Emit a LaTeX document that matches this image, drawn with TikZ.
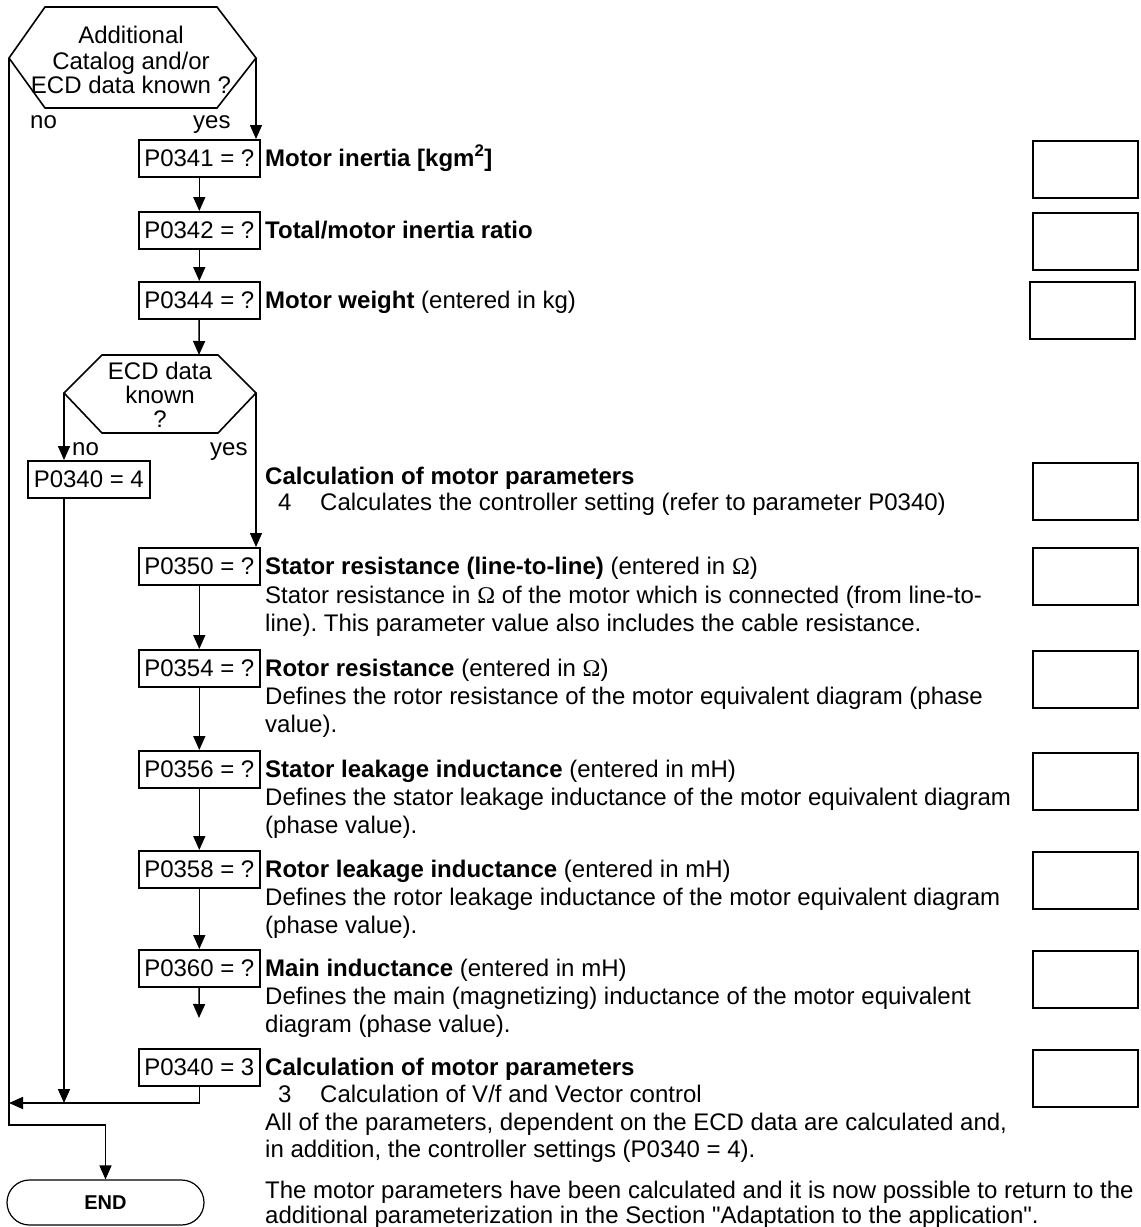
\documentclass[tikz,border=0pt]{standalone}
\usepackage{fontspec}
\setmainfont{Liberation Sans}
\newfontfamily\omegafont{Liberation Serif}
\newfontfamily\plainfont{Liberation Sans}
\usetikzlibrary{arrows.meta}
\newcommand{\Om}{{\omegafont Ω}}
\newcommand{\dq}{{\plainfont"}}
\frenchspacing
\begin{document}
\begin{tikzpicture}[x=1pt,y=-1pt,
  font=\fontsize{24}{28}\selectfont\frenchspacing,
  ln/.style={line width=1.6pt},
  arr/.style={line width=1.6pt,-{Triangle[length=14pt,width=12pt]}},
  pbox/.style={draw,line width=1.6pt,minimum width=121pt,minimum height=37pt,inner sep=0pt,anchor=north west},
  rbox/.style={draw,line width=1.6pt,minimum width=105pt,minimum height=57pt,inner sep=0pt,anchor=north west},
  txt/.style={anchor=base west,inner sep=0pt},
  ctxt/.style={anchor=base,inner sep=0pt},
  endbox/.style={draw,line width=1.2pt,minimum width=197pt,minimum height=45pt,rounded corners=22.5pt,inner sep=0pt,font=\fontsize{20}{24}\selectfont\bfseries}
]
\useasboundingbox (0,0) rectangle (1141,1227);

% decision 1
\coordinate (d1l) at (9,58);
\coordinate (d1r) at (256,58);
\draw[ln] (d1l) -- (45,7) -- (217,7) -- (d1r) -- (217,108) -- (45,108) -- cycle;
\node[ctxt] (d1a) at (131,43) {Additional};
\node[ctxt] (d1b) at (131,69) {Catalog and/or};
\node[ctxt] (d1c) at (131,93) {ECD data known ?};
\node[txt] (no1) at (30,128) {no};
\node[txt] (yes1) at (193,128) {yes};

% parameter boxes
\node[pbox] (p341) at (138,139) {P0341 = ?};
\node[pbox] (p342) at (138,211) {P0342 = ?};
\node[pbox] (p344) at (138,281) {P0344 = ?};

% decision 2
\coordinate (d2l) at (64,393);
\coordinate (d2r) at (256,393);
\coordinate (d2t) at (199,355);
\draw[ln] (d2l) -- (102,355) -- (218,355) -- (d2r) -- (218,433) -- (102,433) -- cycle;
\node[ctxt] (d2a) at (160,379) {ECD data};
\node[ctxt] (d2b) at (160,403) {known};
\node[ctxt] (d2c) at (160,427) {?};
\node[txt] (no2) at (72,455) {no};
\node[txt] (yes2) at (210,455) {yes};

\node[pbox,minimum width=122pt] (p3404) at (27,460) {P0340 = 4};
\node[pbox] (p350) at (138,547) {P0350 = ?};
\node[pbox] (p354) at (138,649) {P0354 = ?};
\node[pbox] (p356) at (138,750) {P0356 = ?};
\node[pbox] (p358) at (138,850) {P0358 = ?};
\node[pbox] (p360) at (138,949) {P0360 = ?};
\node[pbox] (p3403) at (138,1048) {P0340 = 3};

\node[endbox] (endn) at (105.5,1202.5) {END};

% right check boxes
\node[rbox] (r1) at (1032,140) {};
\node[rbox] (r2) at (1032,212) {};
\node[rbox] (r3) at (1029,281) {};
\node[rbox] (r4) at (1032,462) {};
\node[rbox] (r5) at (1032,547) {};
\node[rbox] (r6) at (1032,650) {};
\node[rbox] (r7) at (1032,752) {};
\node[rbox] (r8) at (1032,851) {};
\node[rbox] (r9) at (1032,950) {};
\node[rbox] (r10) at (1032,1049) {};

% descriptive texts
\node[txt] (t1) at (265,166) {\textbf{Motor inertia [kgm\textsuperscript{2}]}};
\node[txt] (t2) at (265,238) {\textbf{Total/motor inertia ratio}};
\node[txt] (t3) at (265,308) {\textbf{Motor weight} (entered in kg)};
\node[txt] (t4) at (265,484) {\textbf{Calculation of motor parameters}};
\node[txt] (t4n) at (278,510) {4};
\node[txt] (t4b) at (320,510) {Calculates the controller setting (refer to parameter P0340)};
\node[txt] (t5) at (265,574) {\textbf{Stator resistance (line-to-line)} (entered in \Om)};
\node[txt] (t5a) at (265,603) {Stator resistance in \Om{} of the motor which is connected (from line-to-};
\node[txt] (t5b) at (265,631) {line). This parameter value also includes the cable resistance.};
\node[txt] (t6) at (265,676) {\textbf{Rotor resistance} (entered in \Om)};
\node[txt] (t6a) at (265,704) {Defines the rotor resistance of the motor equivalent diagram (phase};
\node[txt] (t6b) at (265,732) {value).};
\node[txt] (t7) at (265,777) {\textbf{Stator leakage inductance} (entered in mH)};
\node[txt] (t7a) at (265,805) {Defines the stator leakage inductance of the motor equivalent diagram};
\node[txt] (t7b) at (265,833) {(phase value).};
\node[txt] (t8) at (265,877) {\textbf{Rotor leakage inductance} (entered in mH)};
\node[txt] (t8a) at (265,905) {Defines the rotor leakage inductance of the motor equivalent diagram};
\node[txt] (t8b) at (265,933) {(phase value).};
\node[txt] (t9) at (265,976) {\textbf{Main inductance} (entered in mH)};
\node[txt] (t9a) at (265,1004) {Defines the main (magnetizing) inductance of the motor equivalent};
\node[txt] (t9b) at (265,1032) {diagram (phase value).};
\node[txt] (t10) at (265,1075) {\textbf{Calculation of motor parameters}};
\node[txt] (t10n) at (278,1102) {3};
\node[txt] (t10a) at (320,1102) {Calculation of V/f and Vector control};
\node[txt] (t10b) at (265,1130) {All of the parameters, dependent on the ECD data are calculated and,};
\node[txt] (t10c) at (265,1157) {in addition, the controller settings (P0340 = 4).};
\node[txt] (t11) at (265,1198) {The motor parameters have been calculated and it is now possible to return to the};
\node[txt] (t11a) at (265,1223) {additional parameterization in the Section \dq Adaptation to the application\dq.};

% connectors
\coordinate (c1) at (9,1125);
\coordinate (mg) at (9,1103);
\coordinate (free) at (199,1018);
\draw[arr] (d1r) -- (d1r |- p341.north);
\draw[arr] (p341) -- (p342);
\draw[arr] (p342) -- (p344);
\draw[arr] (p344) -- (d2t);
\draw[arr] (d2l) -- (d2l |- p3404.north);
\draw[arr] (d2r) -- (d2r |- p350.north);
\draw[arr] (p350) -- (p354);
\draw[arr] (p354) -- (p356);
\draw[arr] (p356) -- (p358);
\draw[arr] (p358) -- (p360);
\draw[arr] (p360) -- (free);
\draw[arr] (d2l |- p3404.south) -- (d2l |- mg);
\draw[arr] (p3403.south) |- (mg);
\draw[arr] (d1l) -- (c1) -| (endn.north);
\end{tikzpicture}
\end{document}
